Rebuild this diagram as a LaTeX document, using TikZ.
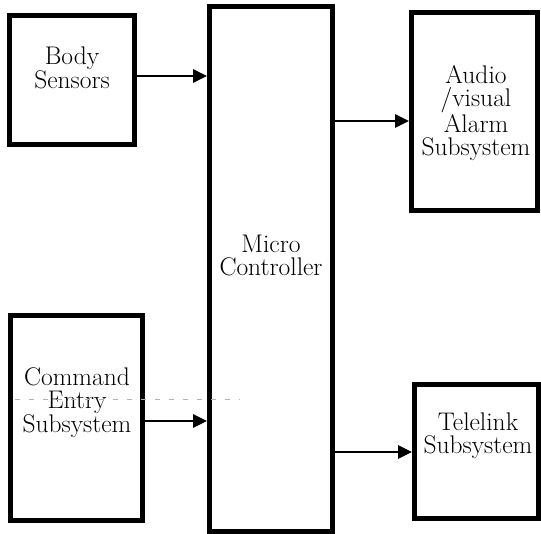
\documentclass[tikz,border=0pt]{standalone}
\usetikzlibrary{arrows.meta}
\begin{document}
\begin{tikzpicture}[x=1pt,y=-1pt,
  block/.style={draw,line width=5pt,inner sep=0pt,rectangle},
  caption/.style={align=center,font=\fontsize{25.5}{23}\selectfont,inner sep=0pt},
  arr/.style={line width=2.6pt,-{Triangle[length=14pt,width=13pt]}}]
\useasboundingbox (0,0) rectangle (541,534);
% boxes
\node[block,minimum width=125pt,minimum height=129pt] (body) at (72,80) {};
\node[block,minimum width=123pt,minimum height=525pt] (micro) at (271,269) {};
\node[block,minimum width=132pt,minimum height=205pt] (cmd) at (76.5,418) {};
\node[block,minimum width=126pt,minimum height=198pt] (alarm) at (474.5,111.5) {};
\node[block,minimum width=124pt,minimum height=134pt] (tele) at (476.5,451.5) {};
% captions
\node[caption] (bodyT) at (72,68) {Body\\Sensors};
\node[caption] (microT) at (271,255) {Micro\\Controller};
\node[caption] (cmdT) at (77,403) {Command\\Entry\\Subsystem};
\node[caption] (alarmT) at (476,113) {Audio\\/visual\\Alarm\\Subsystem};
\node[caption] (teleT) at (478,436) {Telelink\\Subsystem};
% faint dashed rule
\coordinate (ruleA) at (15,399);
\coordinate (ruleB) at (240,399);
\draw[gray!60,line width=0.6pt,dash pattern=on 5pt off 9pt] (ruleA) -- (ruleB);
% connectors
\draw[arr] ([yshift=4pt]body.east) -- (micro.west |- 0,76);
\draw[arr] ([yshift=-3pt]cmd.east) -- (micro.west |- 0,421);
\draw[arr] (micro.east |- 0,121) -- (alarm.west |- 0,121);
\draw[arr] (micro.east |- 0,452) -- (tele.west |- 0,452);
\end{tikzpicture}
\end{document}
